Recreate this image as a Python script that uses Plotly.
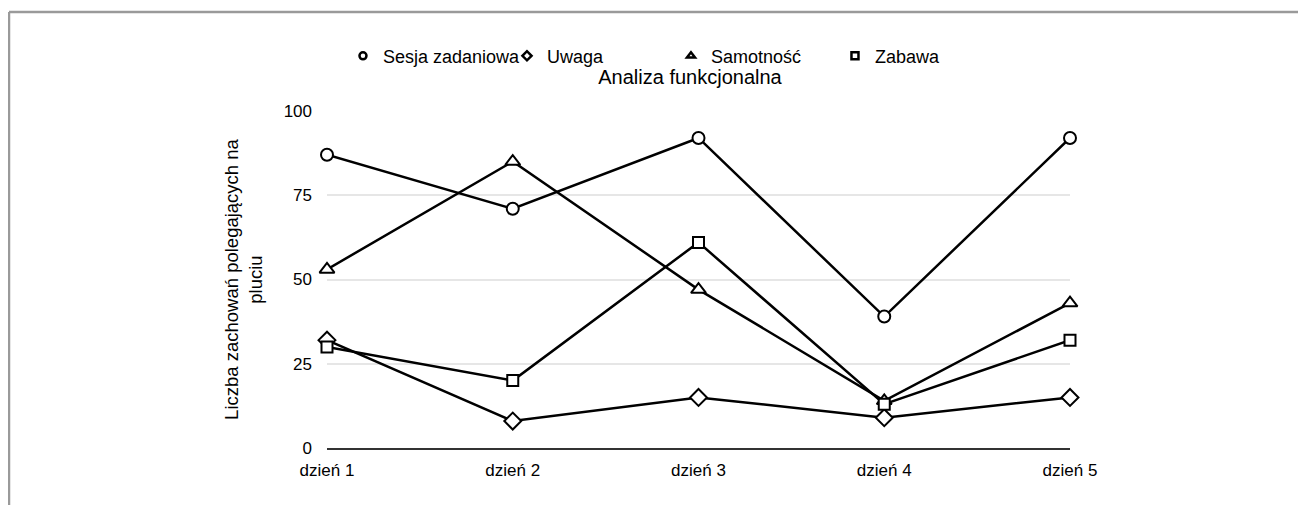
import plotly.graph_objects as go

days = ["dzień 1", "dzień 2", "dzień 3", "dzień 4", "dzień 5"]
sesja = [87, 71, 92, 39, 92]
uwaga = [32, 8, 15, 9, 15]
samotnosc = [53, 85, 47, 14, 43]
zabawa = [30, 20, 61, 13, 32]

series = [
    ("Sesja zadaniowa", sesja, "circle", 12),
    ("Uwaga", uwaga, "diamond", 13),
    ("Samotność", samotnosc, "triangle-up", 13),
    ("Zabawa", zabawa, "square", 11),
]

FONT = "Liberation Sans, Arial, sans-serif"

fig = go.Figure()
for name, vals, sym, size in series:
    fig.add_trace(go.Scatter(
        x=days, y=vals, name=name, mode="lines+markers",
        line=dict(color="black", width=2.5),
        marker=dict(symbol=sym, size=size, color="white",
                    line=dict(color="black", width=2)),
        cliponaxis=False,
        showlegend=False,
    ))
for name, vals, sym, size in series:
    fig.add_trace(go.Scatter(
        x=[None], y=[None], name=name, mode="markers",
        marker=dict(symbol=sym, size=7, color="white",
                    line=dict(color="black", width=2.5)),
        showlegend=True,
    ))

fig.update_layout(
    width=1298, height=497,
    margin=dict(l=319, r=236, t=103, b=57),
    paper_bgcolor="white", plot_bgcolor="white",
    font=dict(family=FONT, size=17, color="black"),
    title=dict(text="Analiza funkcjonalna", x=0.5254, xref="container", xanchor="center",
               y=0.8612, yref="container", yanchor="middle",
               font=dict(family=FONT, size=20, color="black")),
    legend=dict(orientation="h", x=0.0215, xanchor="left", y=1.163, yanchor="middle",
                xref="paper", yref="paper",
                entrywidth=119, entrywidthmode="pixels",
                font=dict(family=FONT, size=18, color="black"),
                bgcolor="rgba(0,0,0,0)"),
    xaxis=dict(type="category", range=[0, 4], showgrid=False, showline=True,
               linecolor="#333333", linewidth=1.5, ticks="", zeroline=False,
               ticklabelstandoff=6, tickfont=dict(family=FONT, size=17)),
    yaxis=dict(range=[0, 100], tickvals=[0, 25, 50, 75, 100], showgrid=True,
               gridcolor="#e6e6e6", gridwidth=2, zeroline=False, showline=False,
               ticks="", ticklabelstandoff=14, tickfont=dict(family=FONT, size=17),
               title=dict(text="Liczba zachowań polegających na<br>pluciu",
                          standoff=16, font=dict(family=FONT, size=18.5))),
    shapes=[
        dict(type="line", xref="paper", yref="paper", x0=-0.428, x1=-0.428,
             y0=-0.2, y1=1.2938, line=dict(color="#9a9a9a", width=2.5)),
        dict(type="line", xref="paper", yref="paper", x0=-0.428, x1=1.35,
             y0=1.2938, y1=1.2938, line=dict(color="#9a9a9a", width=2.5)),
    ],
)

fig.write_html("out.html")
